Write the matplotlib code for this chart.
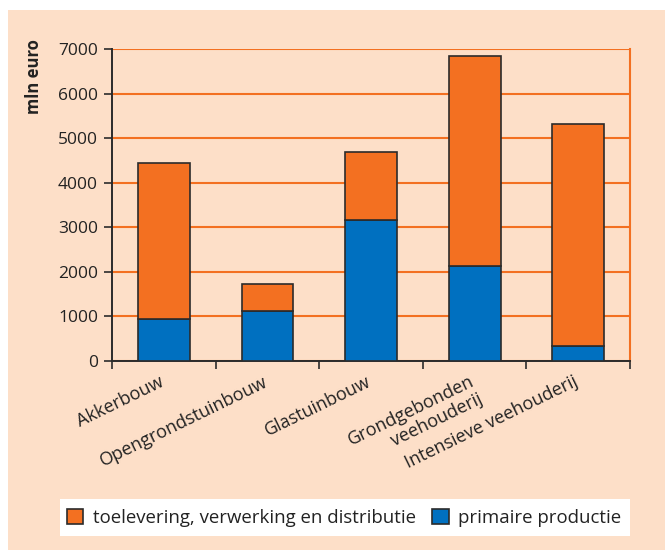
import numpy as np
import matplotlib.pyplot as plt
from matplotlib.patches import Rectangle

# data
categories = ['Akkerbouw', 'Opengrondstuinbouw', 'Glastuinbouw',
              'Grondgebonden\nveehouderij', 'Intensieve veehouderij']
primaire = [940, 1120, 3160, 2130, 340]
totaal = [4440, 1725, 4690, 6840, 5310]
toelevering = [t - p for t, p in zip(totaal, primaire)]
yticks = [0, 1000, 2000, 3000, 4000, 5000, 6000, 7000]

orange = '#F37021'
blue = '#0070C0'
peach = '#FDDFC8'
dark = '#2b2b2b'

plt.rcParams['font.family'] = ['Open Sans', 'DejaVu Sans']

fig = plt.figure(figsize=(6.65, 5.5), dpi=100)
fig.patch.set_facecolor('white')
fig.patches.append(Rectangle((8/665, 0), 1, 1 - 10/550, transform=fig.transFigure,
                             facecolor=peach, edgecolor='none', zorder=-2))
# white legend panel
fig.patches.append(Rectangle((60/665, 1 - 536/550), 570/665, 37/550, transform=fig.transFigure,
                             facecolor='white', edgecolor='none', zorder=-1))

ax = fig.add_axes([112/665, 1 - 361/550, 518/665, 312/550])
ax.set_facecolor('none')

x = np.arange(len(categories))
ax.bar(x, primaire, width=0.5, color=blue, edgecolor=dark, linewidth=1.2, zorder=3,
       label='primaire productie')
ax.bar(x, toelevering, bottom=primaire, width=0.5, color=orange, edgecolor=dark,
       linewidth=1.2, zorder=3, label='toelevering, verwerking en distributie')

ax.set_xlim(-0.5, len(categories) - 0.5)
ax.set_ylim(0, 7000)
ax.set_yticks(yticks)
ax.yaxis.grid(True, color=orange, linewidth=1.5, zorder=1)
ax.set_axisbelow(True)

ax.set_xticks(np.arange(len(categories) + 1) - 0.5)
ax.set_xticklabels([])
ax.tick_params(axis='x', direction='out', length=6, width=1.2, color=dark)
ax.tick_params(axis='y', direction='out', length=6, width=1.2, color=dark,
               labelsize=12.5, labelcolor='#222222', pad=4)

for i, lab in enumerate(categories):
    ax.text(i - 0.05, -260, lab, rotation=26, ha='right', va='top',
            rotation_mode='anchor', fontsize=13, color='#222222',
            multialignment='right', linespacing=1.1)

ax.spines['top'].set_visible(False)
ax.spines['right'].set_color(orange)
ax.spines['right'].set_linewidth(1.5)
ax.spines['left'].set_color(dark)
ax.spines['left'].set_linewidth(1.4)
ax.spines['bottom'].set_color(dark)
ax.spines['bottom'].set_linewidth(1.4)

fig.text(34/665, 1 - 77/550, 'mln euro', rotation=90, ha='center', va='center',
         fontsize=12, fontweight='bold', color='#222222')

handles, labels = ax.get_legend_handles_labels()
leg = fig.legend(handles[::-1], labels[::-1], loc='center',
                 bbox_to_anchor=(344/665, 1 - 518/550), ncol=2, frameon=False,
                 fontsize=13.4, handlelength=0.9, handleheight=0.9,
                 handletextpad=0.5, columnspacing=0.9)
for t in leg.get_texts():
    t.set_color('#222222')

fig.savefig('out.png', dpi=100)
